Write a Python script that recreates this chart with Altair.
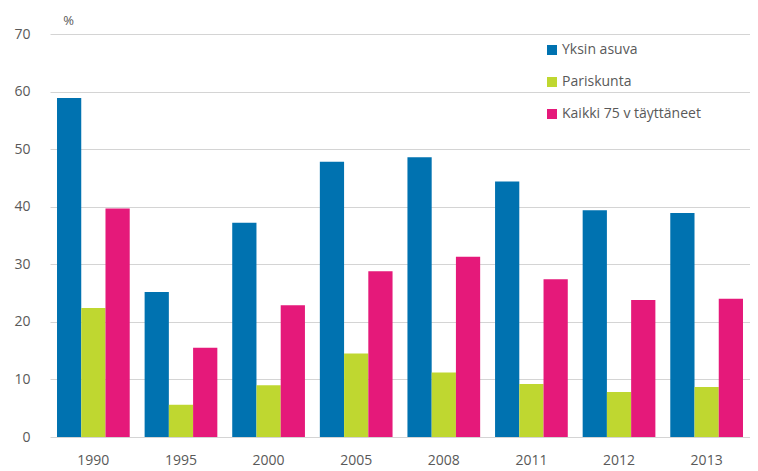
import altair as alt
import pandas as pd

years = ["1990", "1995", "2000", "2005", "2008", "2011", "2012", "2013"]
series = ["Yksin asuva", "Pariskunta", "Kaikki 75 v täyttäneet"]
yksin = [58.9, 25.2, 37.2, 47.8, 48.6, 44.4, 39.4, 38.9]
pari = [22.4, 5.6, 9.0, 14.5, 11.2, 9.2, 7.8, 8.7]
kaikki = [39.7, 15.5, 22.9, 28.8, 31.3, 27.4, 23.8, 24.0]
colors = ["#0072B0", "#BFD730", "#E5197A"]

rows = []
for name, vals in zip(series, [yksin, pari, kaikki]):
    for y, v in zip(years, vals):
        rows.append({"Vuosi": y, "Sarja": name, "Arvo": v})
df = pd.DataFrame(rows)

FONT = "Open Sans"
GREY = "#595959"

chart = alt.Chart(df).mark_bar().encode(
    x=alt.X("Vuosi:N", sort=years, title=None,
            scale=alt.Scale(paddingInner=0.17, paddingOuter=0.08),
            axis=alt.Axis(labelAngle=0, domain=False, ticks=False, labelPadding=16,
                          labelFontSize=14, labelColor=GREY, labelFont=FONT)),
    xOffset=alt.XOffset("Sarja:N", sort=series, scale=alt.Scale(paddingInner=0, paddingOuter=0)),
    y=alt.Y("Arvo:Q", scale=alt.Scale(domain=[0, 70]),
            axis=alt.Axis(values=[0, 10, 20, 30, 40, 50, 60, 70], domain=False, ticks=False,
                          labelPadding=20, labelFontSize=14, labelColor=GREY, labelFont=FONT,
                          gridColor="#d4d4d4", gridWidth=1,
                          title="%", titleAngle=0, titleX=18, titleY=-14,
                          titleAlign="center", titleBaseline="middle",
                          titleFontSize=13, titleFontWeight="normal", titleColor=GREY, titleFont=FONT)),
    color=alt.Color("Sarja:N", sort=series,
                    scale=alt.Scale(domain=series, range=colors),
                    legend=alt.Legend(title=None, orient="none", legendX=495, legendY=9,
                                      symbolType="square", symbolSize=100, symbolStrokeWidth=0,
                                      labelFontSize=14, labelColor=GREY, labelFont=FONT,
                                      rowPadding=18, labelOffset=3)),
).properties(
    width=700, height=403,
    autosize=alt.AutoSizeParams(type="none"),
    padding={"left": 42, "top": 26, "right": 0, "bottom": 40},
).configure_view(stroke=None)

chart.save("out.html", embed_options={"renderer": "svg", "actions": False})
